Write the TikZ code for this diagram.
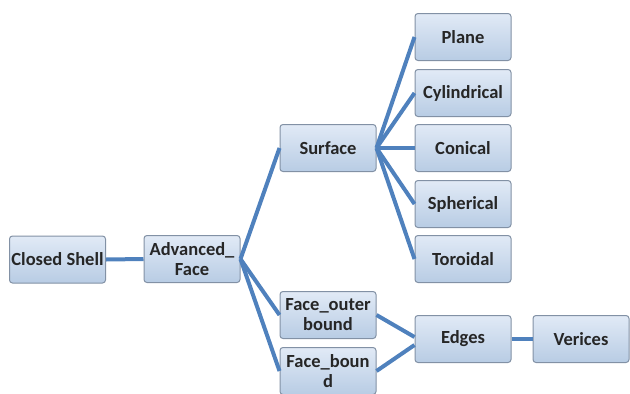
\documentclass[tikz,border=0pt]{standalone}
\usepackage{fontspec}
\setmainfont{Carlito}
\definecolor{linkblue}{RGB}{79,129,189}
\definecolor{boxtop}{RGB}{225,234,246}
\definecolor{boxbot}{RGB}{184,204,228}
\definecolor{boxline}{RGB}{130,145,165}
\tikzset{
  box/.style={draw=boxline, line width=1pt, rounded corners=3pt,
    top color=boxtop, bottom color=boxbot, minimum width=96pt,
    minimum height=47pt, inner sep=1pt, align=center,
    font=\fontsize{18.5}{20}\selectfont\bfseries, text=black!85},
  link/.style={draw=linkblue, line width=4pt}
}
\begin{document}
\begin{tikzpicture}[x=1pt,y=-1pt]
\useasboundingbox (0,0) rectangle (630,394);
\path   (57.5,259.5) node[box] (shell) {Closed Shell}
        (192,259)  node[box] (advface) {Advanced\_\\Face}
        (328,148)  node[box] (surface) {Surface}
        (463,37)   node[box] (plane) {Plane}
        (463,93)   node[box] (cylindrical) {Cylindrical}
        (463,148)  node[box] (conical) {Conical}
        (463,204)  node[box] (spherical) {Spherical}
        (463,259)  node[box] (toroidal) {Toroidal}
        (328,315)  node[box] (outerbound) {Face\_outer\\bound}
        (328,371)  node[box] (facebound) {Face\_boun\\d}
        (463,339)  node[box] (edges) {Edges}
        (581,339)  node[box] (vertices) {Verices};
\draw[link] (shell.east) -- (advface.west);
\foreach \kid in {surface,outerbound,facebound}
	\draw[link] (advface.east) -- (\kid.west);
\foreach \kid in {plane,cylindrical,conical,spherical,toroidal}
	\draw[link] (surface.east) -- (\kid.west);
\draw[link] (outerbound.east) -- ([yshift=2pt]edges.west);
\draw[link] (facebound.east) -- ([yshift=-6pt]edges.west);
\draw[link] (edges.east) -- (vertices.west);
\end{tikzpicture}
\end{document}
